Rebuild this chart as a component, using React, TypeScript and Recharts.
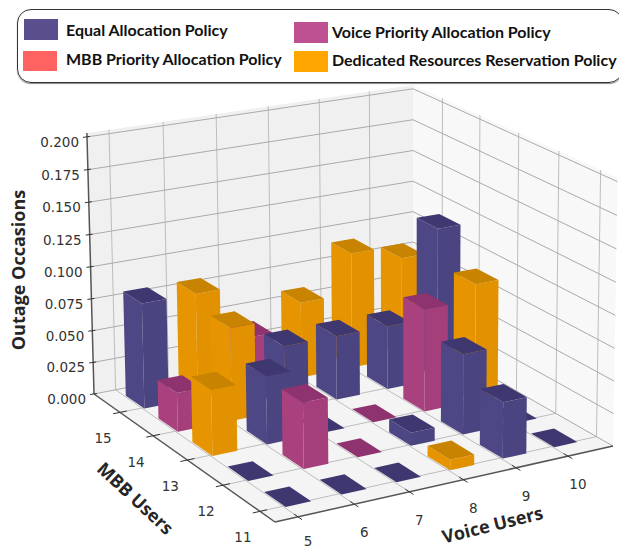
import { Customized, Scatter, ScatterChart, XAxis, YAxis } from 'recharts';

const WIDTH = 619;
const HEIGHT = 550;

const voiceUsers = [5, 6, 7, 8, 9, 10];
const mbbUsers = [11, 12, 13, 14, 15];
const occasionTicks = [0, 0.025, 0.05, 0.075, 0.1, 0.125, 0.15, 0.175, 0.2];

const policyNames = [
  'Equal Allocation Policy',
  'MBB Priority Allocation Policy',
  'Voice Priority Allocation Policy',
  'Dedicated Resources Reservation Policy',
];

// rows are MBB users 11..15, columns are voice users 5..10
const equalAllocation = [
  [0, 0, 0, null, 0.043, 0],
  [0, null, null, 0.01, 0.062, 0],
  [null, 0.052, 0, null, null, null],
  [null, null, 0.05, 0.05, 0.05, 0.12],
  [0.082, null, null, null, null, null],
];
const mbbPriority = [
  [null, null, null, null, null, null],
  [null, null, null, null, null, null],
  [null, null, null, null, null, null],
  [null, null, null, null, null, null],
  [null, null, null, null, null, null],
];
const voicePriority = [
  [null, null, null, null, null, null],
  [null, 0.05, 0, null, null, null],
  [null, null, null, 0, 0.08, null],
  [0.03, null, null, null, null, null],
  [null, null, 0.04, null, null, null],
];
const dedicatedReservation = [
  [null, null, null, 0.008, null, null],
  [null, null, null, null, null, null],
  [0.05, null, null, null, null, 0.092],
  [null, 0.072, null, null, null, null],
  [null, 0.082, null, 0.06, 0.092, 0.081],
];

const SERIES = [equalAllocation, mbbPriority, voicePriority, dedicatedReservation];

const SWATCH = ['#5b4e8c', '#ff6361', '#bc5090', '#ffa600'];
const LEFT_FACE = ['#4d4785', '#e0524f', '#a9417f', '#e69500'];
const RIGHT_FACE = ['#4a4480', '#dd504d', '#a53f7c', '#e29200'];
const TOP_FACE = ['#3f3870', '#c04644', '#8f3370', '#c88300'];

// floor/height homography of the 3d box, fitted to the picture
function project(u: number, v: number, t: number) {
  const w = 1 + 0.0674 * u + 0.1018 * v - 0.0237 * t;
  return {
    x: (379.3 * u - 171.4 * v + 275 - 9.8 * t) / w,
    y: (-45.9 * u - 87.9 * v + 522 - 286.5 * t) / w,
  };
}

const voicePos = (voice: number) => 0.064 + (voice - 5) * 0.159;
const mbbPos = (mbb: number) => 0.076 + (mbb - 11) * 0.192;
const heightPos = (value: number) => value / 0.2;

const BAR_U = 0.072;
const BAR_V = 0.11;
// bar centres sit a little past the grid line of their cell
const barU = (voice: number) => voicePos(voice) + 0.04;
const barV = (mbb: number) => mbbPos(mbb) + 0.048;

type Row = {
  voice: number;
  mbb: number;
  value: number;
  policy: number;
  sx: number;
  sy: number;
};

const rows: Row[] = [];
SERIES.forEach((table, policy) => {
  table.forEach((cells, j) => {
    cells.forEach((value, i) => {
      if (value === null) return;
      const voice = voiceUsers[i];
      const mbb = mbbUsers[j];
      const c = project(barU(voice), barV(mbb), 0);
      rows.push({ voice, mbb, value, policy, sx: c.x, sy: c.y });
    });
  });
});
// painter's order: the far corner first
rows.sort((a, b) => b.mbb - a.mbb || b.voice - a.voice);

function poly(pts: { x: number; y: number }[]) {
  return pts.map((p) => `${p.x.toFixed(1)},${p.y.toFixed(1)}`).join(' ');
}

function BarShape(props: any) {
  const { cx, cy, payload } = props;
  const { voice, mbb, value, policy } = payload as Row;
  const uc = barU(voice);
  const vc = barV(mbb);
  const u0 = uc - BAR_U / 2;
  const v0 = vc - BAR_V / 2;
  const u1 = uc + BAR_U / 2;
  const v1 = vc + BAR_V / 2;
  const t = heightPos(value);
  const base = project(uc, vc, 0);
  const at = (u: number, v: number, h: number) => {
    const p = project(u, v, h);
    return { x: cx + p.x - base.x, y: cy + p.y - base.y };
  };
  return (
    <g>
      {t > 0 && (
        <>
          <polygon
            points={poly([at(u0, v0, 0), at(u0, v1, 0), at(u0, v1, t), at(u0, v0, t)])}
            fill={LEFT_FACE[policy]}
          />
          <polygon
            points={poly([at(u0, v0, 0), at(u1, v0, 0), at(u1, v0, t), at(u0, v0, t)])}
            fill={RIGHT_FACE[policy]}
          />
        </>
      )}
      <polygon
        points={poly([at(u0, v0, t), at(u1, v0, t), at(u1, v1, t), at(u0, v1, t)])}
        fill={TOP_FACE[policy]}
      />
    </g>
  );
}

function Segment({ a, b, stroke, width }: any) {
  return <line x1={a.x} y1={a.y} x2={b.x} y2={b.y} stroke={stroke} strokeWidth={width} />;
}

const GRID = '#bdbdbd';
const AXIS = '#555555';
const TOP = 1.015;

function Backdrop() {
  return (
    <g>
      <polygon
        points={poly([project(0, 1, 0), project(1, 1, 0), project(1, 1, TOP), project(0, 1, TOP)])}
        fill="#f0f0f0"
      />
      <polygon
        points={poly([project(1, 1, 0), project(1, 0, 0), project(1, 0, TOP), project(1, 1, TOP)])}
        fill="#f8f8f8"
      />
      <polygon
        points={poly([project(0, 0, 0), project(1, 0, 0), project(1, 1, 0), project(0, 1, 0)])}
        fill="#f4f4f4"
      />
      {voiceUsers.map((voice) => {
        const u = voicePos(voice);
        return (
          <g key={voice}>
            <Segment a={project(u, 0, 0)} b={project(u, 1, 0)} stroke={GRID} width={1} />
            <Segment a={project(u, 1, 0)} b={project(u, 1, TOP)} stroke={GRID} width={1} />
          </g>
        );
      })}
      {mbbUsers.map((mbb) => {
        const v = mbbPos(mbb);
        return (
          <g key={mbb}>
            <Segment a={project(0, v, 0)} b={project(1, v, 0)} stroke={GRID} width={1} />
            <Segment a={project(1, v, 0)} b={project(1, v, TOP)} stroke={GRID} width={1} />
          </g>
        );
      })}
      {occasionTicks.map((tick) => {
        const t = heightPos(tick);
        return (
          <g key={tick}>
            <Segment a={project(0, 1, t)} b={project(1, 1, t)} stroke="#aaaaaa" width={1} />
            <Segment a={project(1, 1, t)} b={project(1, 0, t)} stroke="#aaaaaa" width={1} />
          </g>
        );
      })}
    </g>
  );
}

const TICK_TEXT = {
  fontFamily: 'DejaVu Sans',
  fontSize: 13.5,
  fill: '#333333',
};
const TITLE_TEXT = {
  fontFamily: 'Open Sans',
  fontWeight: 700,
  fill: '#262626',
};

function Axes() {
  return (
    <g>
      <Segment a={project(0, 1, 0)} b={project(0, 1, TOP)} stroke={AXIS} width={1.5} />
      <Segment a={project(0, 1, 0)} b={project(0, 0, 0)} stroke={AXIS} width={1.5} />
      <Segment a={project(0, 0, 0)} b={project(1, 0, 0)} stroke={AXIS} width={1.5} />
      {occasionTicks.map((tick) => {
        const t = heightPos(tick);
        const p = project(0, 1, t);
        return (
          <g key={tick}>
            <Segment a={{ x: p.x - 4, y: p.y + 0.5 }} b={{ x: p.x + 3, y: p.y - 0.5 }} stroke="#333" width={1} />
            <text x={p.x - 8} y={p.y + 10} textAnchor="end" {...TICK_TEXT}>
              {tick.toFixed(3)}
            </text>
          </g>
        );
      })}
      {voiceUsers.map((voice) => {
        const p = project(voicePos(voice), 0, 0);
        return (
          <g key={voice}>
            <Segment a={project(voicePos(voice), -0.02, 0)} b={project(voicePos(voice), 0.02, 0)} stroke="#333" width={1} />
            <text x={p.x + 10} y={Math.min(p.y + 33, 546)} textAnchor="middle" {...TICK_TEXT}>
              {voice}
            </text>
          </g>
        );
      })}
      {mbbUsers.map((mbb) => {
        const p = project(0, mbbPos(mbb), 0);
        return (
          <g key={mbb}>
            <Segment a={project(-0.02, mbbPos(mbb), 0)} b={project(0.02, mbbPos(mbb), 0)} stroke="#333" width={1} />
            <text x={p.x - 17} y={p.y + 31} textAnchor="middle" {...TICK_TEXT}>
              {mbb}
            </text>
          </g>
        );
      })}
      <text
        transform="translate(25 270) rotate(-90)"
        textAnchor="middle"
        fontSize={18}
        {...TITLE_TEXT}
      >
        Outage Occasions
      </text>
      <text
        transform="translate(131 503) rotate(43)"
        textAnchor="middle"
        fontSize={18}
        {...TITLE_TEXT}
      >
        MBB Users
      </text>
      <text
        transform="translate(494 531) rotate(-14)"
        textAnchor="middle"
        fontSize={18}
        {...TITLE_TEXT}
      >
        Voice Users
      </text>
    </g>
  );
}

const LEGEND_SWATCH = [
  { left: 24, top: 19, height: 21 },
  { left: 23, top: 51, height: 20 },
  { left: 294, top: 22, height: 21 },
  { left: 294, top: 51, height: 21 },
];
const LEGEND_TEXT = [
  { left: 66, top: 30 },
  { left: 66, top: 59 },
  { left: 332, top: 32 },
  { left: 332, top: 60 },
];

function PolicyLegend() {
  return (
    <div
      style={{
        position: 'absolute',
        left: 17,
        top: 9,
        width: 606,
        height: 74,
        boxSizing: 'border-box',
        border: '1px solid #333',
        borderRadius: 14,
        boxShadow: '0 1px 1px #888',
      }}
    >
      {policyNames.map((name, i) => (
        <div key={name}>
          <div
            style={{
              position: 'absolute',
              left: LEGEND_SWATCH[i].left - 18,
              top: LEGEND_SWATCH[i].top - 10,
              width: 34,
              height: LEGEND_SWATCH[i].height,
              background: SWATCH[i],
            }}
          />
          <div
            style={{
              position: 'absolute',
              left: LEGEND_TEXT[i].left - 18,
              top: LEGEND_TEXT[i].top - 20,
              lineHeight: '20px',
              whiteSpace: 'nowrap',
              fontFamily: 'Lato',
              fontWeight: 700,
              fontSize: 16,
              color: '#111',
            }}
          >
            {name}
          </div>
        </div>
      ))}
    </div>
  );
}

export default function App() {
  return (
    <div
      style={{
        position: 'absolute',
        left: 0,
        top: 0,
        width: WIDTH,
        height: HEIGHT,
        background: '#fff',
        overflow: 'hidden',
      }}
    >
      <ScatterChart
        width={WIDTH}
        height={HEIGHT}
        margin={{ top: 0, right: 0, bottom: 0, left: 0 }}
      >
        <XAxis type="number" dataKey="sx" domain={[0, WIDTH]} hide />
        <YAxis type="number" dataKey="sy" domain={[0, HEIGHT]} reversed hide />
        <Customized component={Backdrop} />
        <Customized component={Axes} />
        <Scatter data={rows} shape={BarShape} isAnimationActive={false} />
      </ScatterChart>
      <PolicyLegend />
    </div>
  );
}
